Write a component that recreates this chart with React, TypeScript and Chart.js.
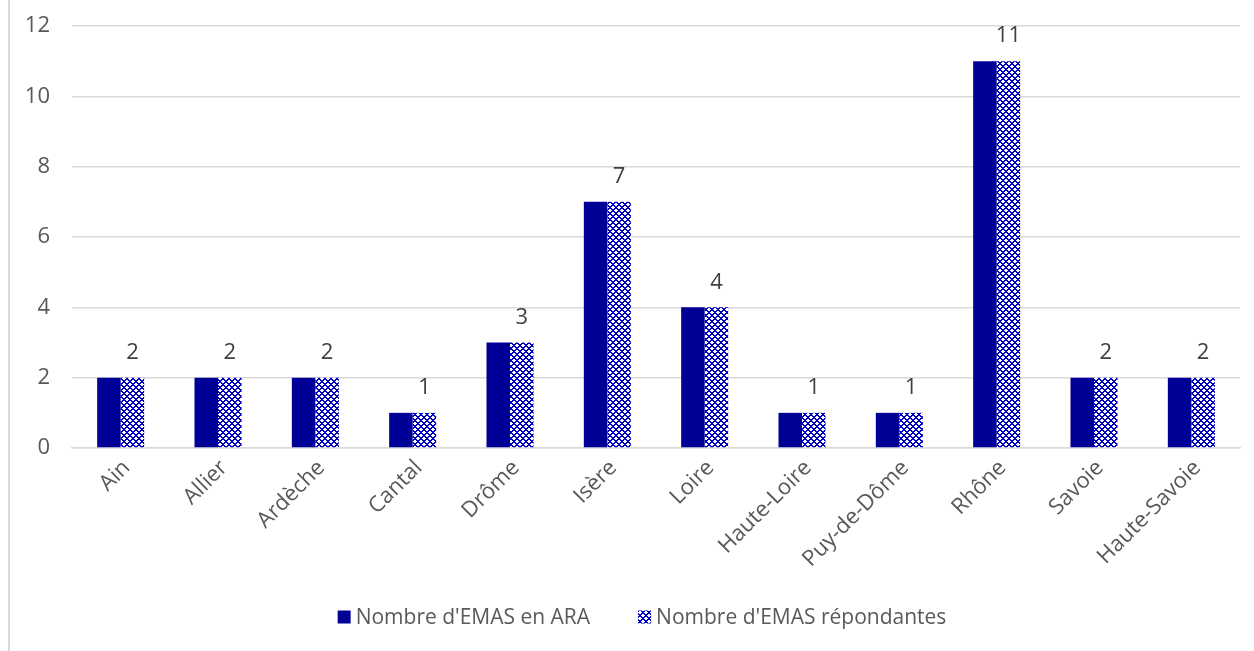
import React, { useEffect, useRef } from "react";
import { Chart, registerables } from "chart.js";

Chart.register(...registerables);

const categories = ["Ain", "Allier", "Ardèche", "Cantal", "Drôme", "Isère", "Loire", "Haute-Loire", "Puy-de-Dôme", "Rhône", "Savoie", "Haute-Savoie"];
const emasARA = [2, 2, 2, 1, 3, 7, 4, 1, 1, 11, 2, 2];
const emasRepondantes = [2, 2, 2, 1, 3, 7, 4, 1, 1, 11, 2, 2];
const seriesNames = ["Nombre d'EMAS en ARA", "Nombre d'EMAS répondantes"];
const yTicks = [0, 2, 4, 6, 8, 10, 12];

const DARK = "#000096";
const PAT = "#0000C0";
const TEXT = "#595959";
const FONT = "'Open Sans', 'DejaVu Sans', sans-serif";
const AXIS_SIZE = 22;
const LEGEND_SIZE = 21;

function makePattern(): CanvasPattern | string {
  const c = document.createElement("canvas");
  c.width = 6;
  c.height = 6;
  const g = c.getContext("2d");
  if (!g) return PAT;
  g.fillStyle = "#ffffff";
  g.fillRect(0, 0, 6, 6);
  g.fillStyle = PAT;
  for (let y = 0; y < 6; y++) {
    for (let x = 0; x < 6; x++) {
      if ((x + y) % 6 < 2 || (x - y + 60) % 6 < 2) g.fillRect(x, y, 1, 1);
    }
  }
  const p = g.createPattern(c, "repeat");
  return p || PAT;
}

export default function App() {
  const ref = useRef<HTMLCanvasElement | null>(null);
  useEffect(() => {
    if (!ref.current) return;
    const pattern = makePattern();

    const extras = {
      id: "extras",
      afterDatasetsDraw(chart: any) {
        const ctx = chart.ctx;
        ctx.save();
        const meta = chart.getDatasetMeta(1);
        ctx.font = `${AXIS_SIZE}px ${FONT}`;
        ctx.fillStyle = "#404040";
        ctx.textAlign = "center";
        ctx.textBaseline = "middle";
        meta.data.forEach((el: any, i: number) => {
          ctx.fillText(String(emasRepondantes[i]), el.x, el.y - 25);
        });
        ctx.restore();
      },
      afterDraw(chart: any) {
        const ctx = chart.ctx;
        ctx.save();
        ctx.strokeStyle = "#d9d9d9";
        ctx.lineWidth = 2;
        ctx.beginPath();
        ctx.moveTo(9, 0);
        ctx.lineTo(9, chart.height);
        ctx.stroke();
        ctx.font = `${LEGEND_SIZE}px ${FONT}`;
        ctx.textBaseline = "middle";
        ctx.textAlign = "left";
        const y = 617;
        const box = 13;
        const gapBox = 5;
        const gapItems = 48;
        const w0 = ctx.measureText(seriesNames[0]).width;
        const w1 = ctx.measureText(seriesNames[1]).width;
        const total = box + gapBox + w0 + gapItems + box + gapBox + w1;
        let x = 642 - total / 2;
        ctx.fillStyle = DARK;
        ctx.fillRect(x, y - box / 2, box, box);
        x += box + gapBox;
        ctx.fillStyle = TEXT;
        ctx.fillText(seriesNames[0], x, y + 1);
        x += w0 + gapItems;
        ctx.fillStyle = pattern as any;
        ctx.fillRect(x, y - box / 2, box, box);
        x += box + gapBox;
        ctx.fillStyle = TEXT;
        ctx.fillText(seriesNames[1], x, y + 1);
        ctx.restore();
      },
    };

    const chart = new Chart(ref.current, {
      type: "bar",
      data: {
        labels: categories,
        datasets: [
          { label: seriesNames[0], data: emasARA, backgroundColor: DARK, borderWidth: 0 },
          { label: seriesNames[1], data: emasRepondantes, backgroundColor: pattern as any, borderWidth: 0 },
        ],
      },
      options: {
        animation: false,
        responsive: false,
        maintainAspectRatio: false,
        layout: { padding: { top: 26, left: 10, right: 14, bottom: 73 } },
        datasets: { bar: { categoryPercentage: 0.483, barPercentage: 1 } },
        plugins: { legend: { display: false }, tooltip: { enabled: false } },
        scales: {
          x: {
            grid: { display: false, drawTicks: false },
            border: { display: true, color: "#d9d9d9", width: 1.5 },
            ticks: {
              color: TEXT,
              font: { family: FONT, size: AXIS_SIZE },
              maxRotation: 45,
              minRotation: 45,
              padding: 7,
              labelOffset: 6,
              autoSkip: false,
            },
            afterFit(scale: any) {
              scale.height = 130;
              scale.paddingLeft = 0;
              scale.paddingRight = 0;
            },
          },
          y: {
            min: 0,
            max: 12,
            afterBuildTicks(scale: any) {
              scale.ticks = yTicks.map((v) => ({ value: v }));
            },
            grid: { color: "#d9d9d9", lineWidth: 1.5, drawTicks: false },
            border: { display: false },
            ticks: { color: TEXT, font: { family: FONT, size: AXIS_SIZE }, padding: 22 },
            afterFit(scale: any) {
              scale.width = 62;
              scale.paddingTop = 0;
              scale.paddingBottom = 0;
            },
          },
        },
      },
      plugins: [extras],
    });
    return () => chart.destroy();
  }, []);

  return (
    <div style={{ position: "fixed", left: 0, top: 0, width: 1254, height: 651, background: "#fff" }}>
      <canvas ref={ref} width={1254} height={651} style={{ width: 1254, height: 651, display: "block" }} />
    </div>
  );
}
